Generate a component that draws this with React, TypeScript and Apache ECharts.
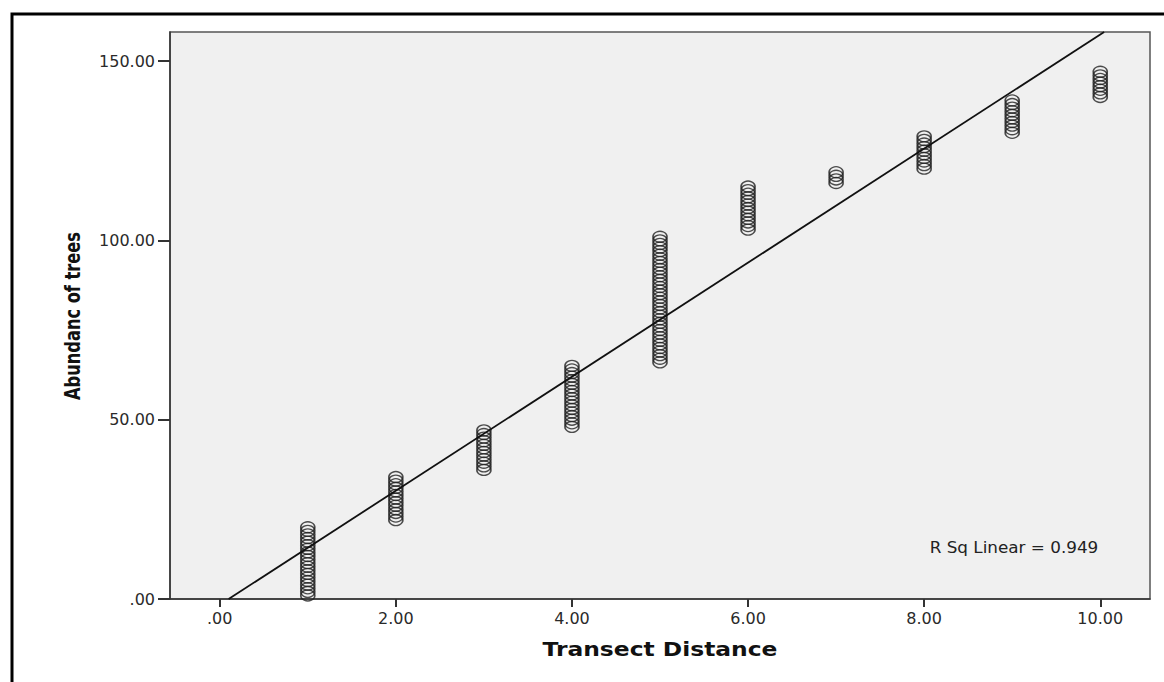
import React, { useEffect, useRef } from "react";
import * as echarts from "echarts";

// Observed values per transect distance
const x1Values = [1, 2, 3, 4, 5, 6, 7, 8, 9, 10, 11, 12, 13, 14, 15, 16, 17, 18, 19, 20];
const x2Values = [22, 23, 24, 25, 26, 27, 28, 29, 30, 31, 32, 33, 34];
const x3Values = [36, 37, 38, 39, 40, 41, 42, 43, 44, 45, 46, 47];
const x4Values = [48, 49, 50, 51, 52, 53, 54, 55, 56, 57, 58, 59, 60, 61, 62, 63, 64, 65];
const x5Values = [66, 67, 68, 69, 70, 71, 72, 73, 74, 75, 76, 77, 78, 79, 80, 81, 82, 83, 84, 85, 86, 87, 88, 89, 90, 91, 92, 93, 94, 95, 96, 97, 98, 99, 100, 101];
const x6Values = [103, 104, 105, 106, 107, 108, 109, 110, 111, 112, 113, 114, 115];
const x7Values = [116, 117, 118, 119];
const x8Values = [120, 121, 122, 123, 124, 125, 126, 127, 128, 129];
const x9Values = [130, 131, 132, 133, 134, 135, 136, 137, 138, 139];
const x10Values = [140, 141, 142, 143, 144, 145, 146, 147];

const distances = [1, 2, 3, 4, 5, 6, 7, 8, 9, 10];
const columns = [x1Values, x2Values, x3Values, x4Values, x5Values, x6Values, x7Values, x8Values, x9Values, x10Values];

const xTicks = [0, 2, 4, 6, 8, 10];
const yTicks = [0, 50, 100, 150];

const fitSlope = 15.9;
const fitIntercept = -1.6;
const rSquared = "0.949";

const xMin = -0.565;
const xMax = 10.565;
const yMin = 0;
const yMax = 158.1;

const fmt = (v: number) => (v === 0 ? ".00" : v.toFixed(2));

export default function App() {
  const ref = useRef<HTMLDivElement>(null);
  useEffect(() => {
    if (!ref.current) return;
    const chart = echarts.init(ref.current, undefined, { renderer: "svg" });
    const points: number[][] = [];
    columns.forEach((vals, i) => vals.forEach((v) => points.push([distances[i], v])));
    const lx0 = (yMin - fitIntercept) / fitSlope;
    const lx1 = (yMax - fitIntercept) / fitSlope;
    const tickFont = { fontFamily: "DejaVu Sans", fontSize: 16, color: "#2a2a2a" };
    chart.setOption({
      animation: false,
      backgroundColor: "#fff",
      grid: {
        left: 170,
        top: 32,
        right: 14,
        bottom: 83,
        show: true,
        backgroundColor: "#f0f0f0",
        borderColor: "#555",
        borderWidth: 1.5,
      },
      xAxis: {
        type: "value",
        min: xMin,
        max: xMax,
        splitLine: { show: false },
        axisLine: { show: true, onZero: false, lineStyle: { color: "#333", width: 1.5 } },
        axisTick: { show: true, length: 8, customValues: xTicks, lineStyle: { color: "#333", width: 2 } },
        axisLabel: { customValues: xTicks, formatter: fmt, margin: 11, ...tickFont },
      },
      yAxis: {
        type: "value",
        min: yMin,
        max: yMax,
        splitLine: { show: false },
        axisLine: { show: true, onZero: false, lineStyle: { color: "#333", width: 1.5 } },
        axisTick: { show: true, length: 12, customValues: yTicks, lineStyle: { color: "#333", width: 2 } },
        axisLabel: { customValues: yTicks, formatter: fmt, margin: 15, ...tickFont },
      },
      series: [
        {
          type: "scatter",
          data: points,
          symbol: "circle",
          symbolSize: [14, 11],
          itemStyle: { color: "rgba(0,0,0,0)", borderColor: "#222", borderWidth: 1.5 },
          z: 2,
        },
        {
          type: "line",
          data: [
            [lx0, yMin],
            [lx1, yMax],
          ],
          symbol: "none",
          lineStyle: { color: "#111", width: 1.8 },
          z: 3,
        },
      ],
      graphic: [
        {
          type: "rect",
          shape: { x: 12, y: 14, width: 1200, height: 720 },
          style: { fill: "none", stroke: "#000", lineWidth: 3 },
          z: 10,
        },
        {
          type: "text",
          x: 72,
          y: 316,
          rotation: Math.PI / 2,
          scaleX: 0.82,
          style: {
            text: "Abundanc of trees",
            fontFamily: "Liberation Sans Narrow, DejaVu Sans Condensed, sans-serif",
            fontWeight: "bold",
            fontSize: 22,
            fill: "#111",
            textAlign: "center",
            textVerticalAlign: "middle",
          },
        },
        {
          type: "text",
          x: 660,
          y: 649,
          scaleX: 1.17,
          style: {
            text: "Transect Distance",
            fontFamily: "DejaVu Sans",
            fontWeight: "bold",
            fontSize: 20,
            fill: "#111",
            textAlign: "center",
            textVerticalAlign: "middle",
          },
        },
        {
          type: "text",
          x: 1014,
          y: 548,
          scaleX: 1.12,
          style: {
            text: "R Sq Linear = " + rSquared,
            fontFamily: "DejaVu Sans",
            fontSize: 15,
            fill: "#222",
            textAlign: "center",
            textVerticalAlign: "middle",
          },
        },
      ],
    });
    return () => chart.dispose();
  }, []);
  return (
    <div
      ref={ref}
      style={{ position: "absolute", left: 0, top: 0, width: 1164, height: 682 }}
    />
  );
}
